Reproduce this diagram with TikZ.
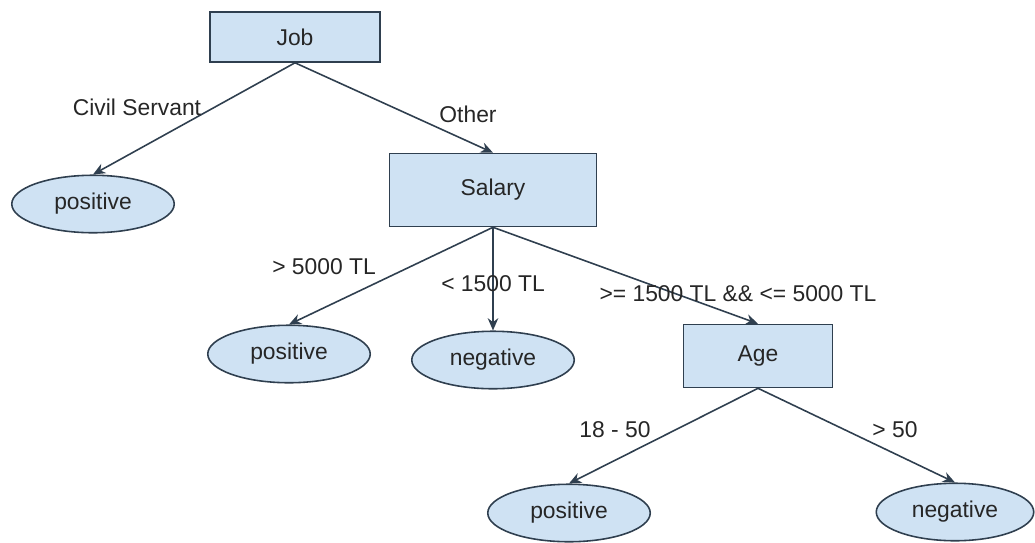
\documentclass[tikz,border=0pt]{standalone}
\usepackage{fontspec}
\setmainfont{Liberation Sans}
\usepackage{xcolor}
\usepackage{tikz}
\usetikzlibrary{arrows.meta,shapes.geometric}
\definecolor{boxfill}{HTML}{CFE2F3}
\definecolor{boxline}{HTML}{2F3F4F}

\begin{document}
\begin{tikzpicture}[x=0.02cm, y=-0.02cm, >={Stealth[length=7pt,width=6pt]},
  every node/.style={font=\fontsize{13}{15}\selectfont, text=black!85},
  test/.style={draw=boxline, fill=boxfill, line width=0.9pt, inner sep=0pt},
  leaf/.style={ellipse, draw=boxline, fill=boxfill, line width=0.9pt,
    inner sep=0pt, minimum width=3.25cm, minimum height=1.15cm},
  link/.style={->, draw=boxline, line width=0.9pt}]
  \useasboundingbox (0,0) rectangle (1035,542);
  \node[test, minimum width=3.4cm, minimum height=1.0cm] (job) at (295,37) {Job};
  \node[leaf] (pos1) at (93,204) {positive};
  \node[test, minimum width=4.14cm, minimum height=1.46cm] (salary) at (493,190) {Salary};
  \node[leaf] (pos2) at (289,354) {positive};
  \node[leaf] (neg1) at (493,360) {negative};
  \node[test, minimum width=2.98cm, minimum height=1.26cm] (age) at (758,356) {Age};
  \node[leaf] (pos3) at (569,513) {positive};
  \node[leaf, minimum width=3.15cm] (neg2) at (955,512) {negative};
  \draw[link] (job.south) -- (pos1.north);
  \draw[link] (job.south) -- (salary.north);
  \draw[link] (salary.south) -- (pos2.north);
  \draw[link] (salary.south) -- (neg1.north);
  \draw[link] (salary.south) -- (age.north);
  \draw[link] (age.south) -- (pos3.north);
  \draw[link] (age.south) -- (neg2.north);
  \node (civil) at (137,107) {Civil Servant};
  \node (other) at (468,114) {Other};
  \node (high) at (324,267) {> 5000 TL};
  \node (low) at (493,284) {< 1500 TL};
  \node (mid) at (738,294) {>= 1500 TL \&\& <= 5000 TL};
  \node (young) at (615,430) {18 - 50};
  \node (old) at (895,430) {> 50};
\end{tikzpicture}
\end{document}
